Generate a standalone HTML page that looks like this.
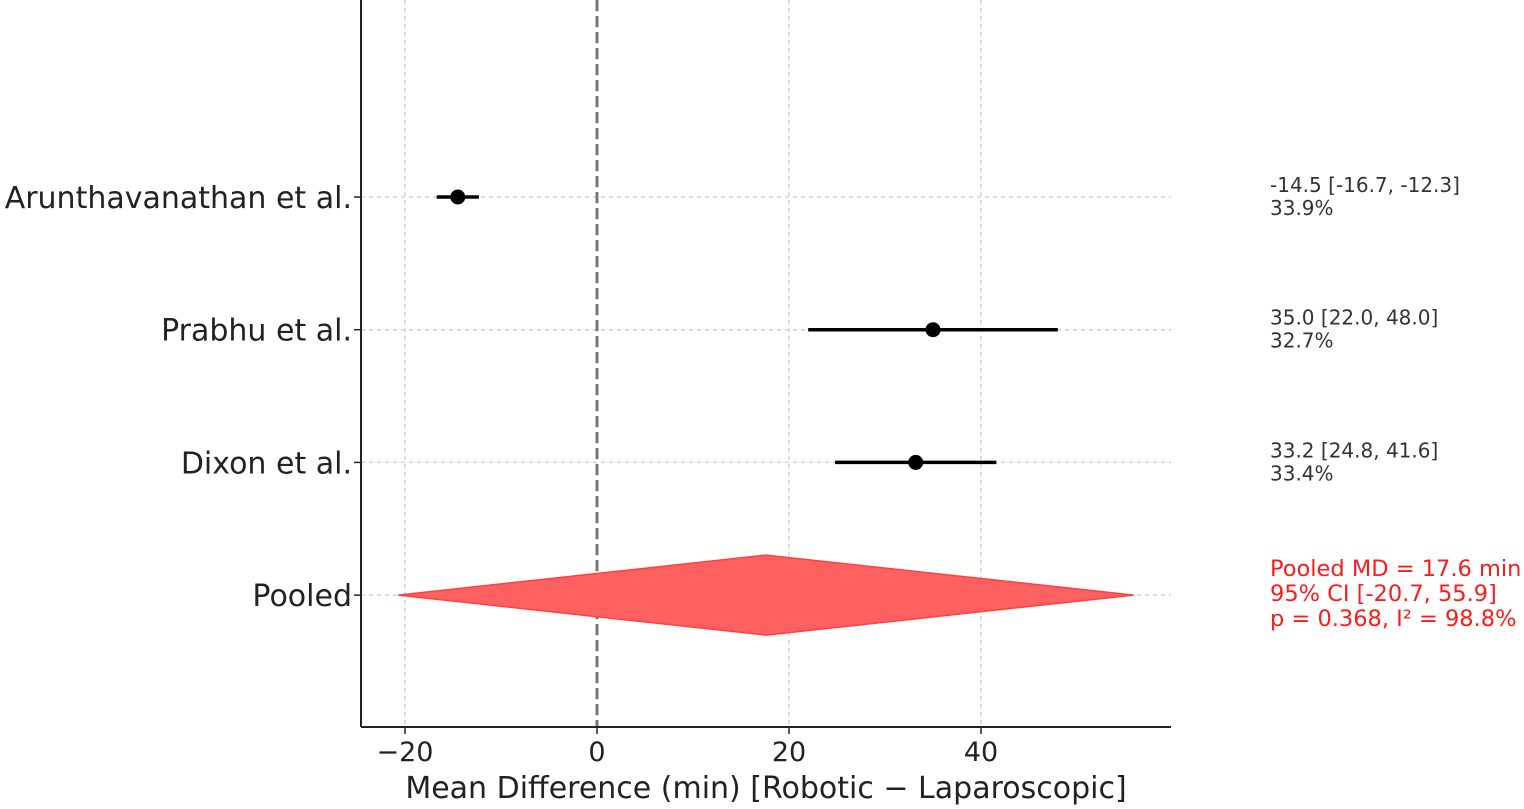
<!DOCTYPE html>
<html><head><meta charset="utf-8"><style>
html,body{margin:0;padding:0;background:#fff;}
svg{display:block;font-family:"DejaVu Sans","Liberation Sans",sans-serif;}
</style></head><body>
<svg id="chart" width="1524" height="809" viewBox="0 0 1524 809" xmlns="http://www.w3.org/2000/svg"></svg>
<script>
const studies = ["Arunthavanathan et al.", "Prabhu et al.", "Dixon et al."];
const means = [-14.5, 35.0, 33.2];
const lows = [-16.7, 22.0, 24.8];
const highs = [-12.3, 48.0, 41.6];
const weights = ["33.9%", "32.7%", "33.4%"];
const pooled = [17.6, -20.7, 55.9];
const pooledText = ["Pooled MD = 17.6 min", "95% CI [-20.7, 55.9]", "p = 0.368, I\u00b2 = 98.8%"];
const xTicks = [-20, 0, 20, 40];

const svg = document.getElementById('chart');
const NS = 'http://www.w3.org/2000/svg';
const X0 = 597, PXU = 9.6;
const xs = v => X0 + v * PXU;
const ROW0 = 197, ROWSTEP = 132.7;
const ys = i => ROW0 + i * ROWSTEP;
const AX_L = 361, AX_R = 1171, AX_B = 727;

function mk(tag, attrs, text) {
  const e = document.createElementNS(NS, tag);
  for (const k in attrs) e.setAttribute(k, attrs[k]);
  if (text !== undefined) e.textContent = text;
  svg.appendChild(e);
  return e;
}

xTicks.forEach(t => {
  const g = mk('line', {x1: xs(t), x2: xs(t), y1: 0, y2: AX_B, stroke: '#ccc', 'stroke-width': 1.3, 'stroke-dasharray': '4,4'});
  
  
  const tk = mk('line', {x1: xs(t), x2: xs(t), y1: AX_B, y2: AX_B + 7, stroke: '#222', 'stroke-width': 1.5});
  
  
  const lb = mk('text', {x: xs(t), y: AX_B + 34, 'text-anchor': 'middle', 'font-size': 27, fill: '#222'}, t < 0 ? '\u2212' + Math.abs(t) : String(t));
  
  
});

const nRows = studies.length + 1;
for (let i = 0; i < nRows; i++) {
  const g = mk('line', {x1: AX_L, x2: AX_R, y1: ys(i), y2: ys(i), stroke: '#ccc', 'stroke-width': 1.3, 'stroke-dasharray': '4,4'});
  
  
  const tk = mk('line', {x1: AX_L - 7, x2: AX_L, y1: ys(i), y2: ys(i), stroke: '#222', 'stroke-width': 1.5});
  
  
}

const z = mk('line', {x1: xs(0), x2: xs(0), y1: 0, y2: AX_B, stroke: '#777', 'stroke-width': 3, 'stroke-dasharray': '11,5'});



const yp = ys(studies.length);
const d = mk('polygon', {points: `${xs(pooled[1])},${yp} ${xs(pooled[0])},${yp-40} ${xs(pooled[2])},${yp} ${xs(pooled[0])},${yp+40}`, fill: '#ff6060', stroke: '#ff4040', 'stroke-width': 1.5});



studies.forEach((s, i) => {
  const y = ys(i);
  const ci = mk('line', {x1: xs(lows[i]), x2: xs(highs[i]), y1: y, y2: y, stroke: '#000', 'stroke-width': 3.5});
  
  
  const pt = mk('circle', {cx: xs(means[i]), cy: y, r: 7.5, fill: '#000'});
  
  
  const lb = mk('text', {x: 352, y: y + 11, 'text-anchor': 'end', 'font-size': 30, fill: '#222'}, s);
  
  
  const a1 = mk('text', {x: 1270, y: y - 5, 'font-size': 20, fill: '#333'}, `${means[i].toFixed(1)} [${lows[i].toFixed(1)}, ${highs[i].toFixed(1)}]`);
  
  
  const a2 = mk('text', {x: 1270, y: y + 18, 'font-size': 20, fill: '#333'}, weights[i]);
  
  
});

const pl = mk('text', {x: 352, y: yp + 11, 'text-anchor': 'end', 'font-size': 30, fill: '#222'}, 'Pooled');


pooledText.forEach((t, k) => {
  const e = mk('text', {x: 1270, y: yp - 19 + k * 25, 'font-size': 22.5, fill: '#ff1a1a'}, t);
  
  
});

const ya = mk('line', {x1: AX_L, x2: AX_L, y1: 0, y2: AX_B, stroke: '#222', 'stroke-width': 2});


const xa = mk('line', {x1: AX_L, x2: AX_R, y1: AX_B, y2: AX_B, stroke: '#222', 'stroke-width': 2});


const xt = mk('text', {x: 766, y: 798, 'text-anchor': 'middle', 'font-size': 30, fill: '#222'}, 'Mean Difference (min) [Robotic \u2212 Laparoscopic]');


</script>
</body></html>
